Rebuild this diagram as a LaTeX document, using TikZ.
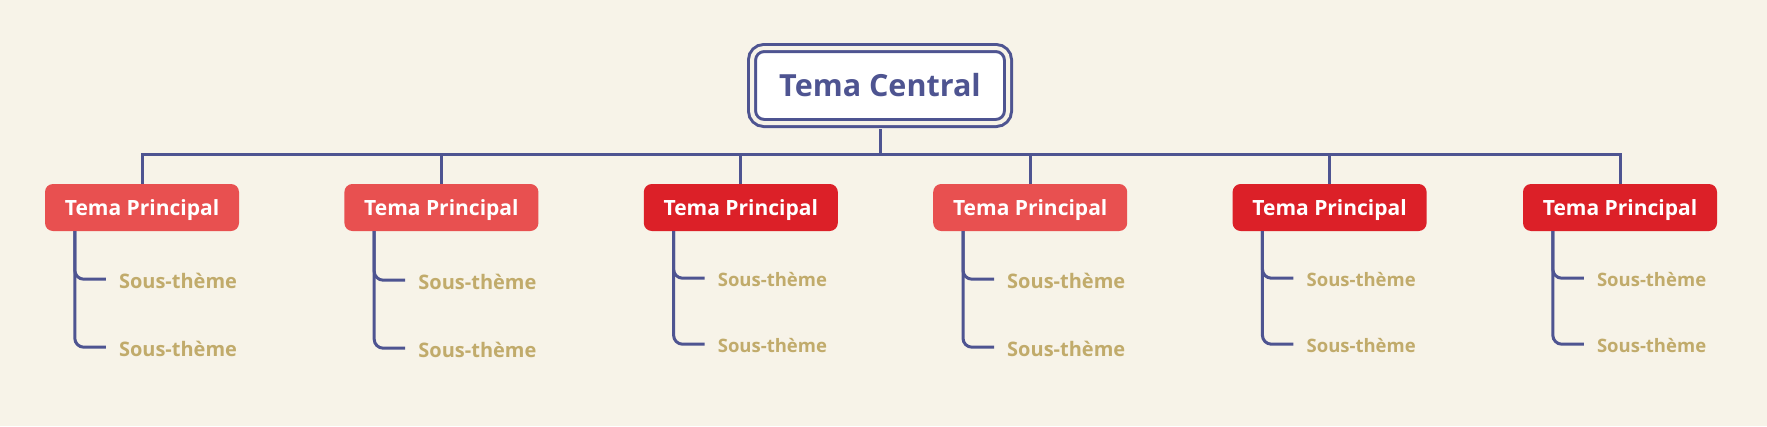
\documentclass[tikz,border=0pt]{standalone}
\usepackage{fontspec}
\setmainfont{Open Sans}
\usetikzlibrary{positioning}
\definecolor{bgcream}{HTML}{F7F3E8}
\definecolor{inkblue}{HTML}{4E5491}
\definecolor{softred}{HTML}{E85050}
\definecolor{deepred}{HTML}{DC2028}
\definecolor{sandgold}{HTML}{C1AB6B}

\begin{document}
\begin{tikzpicture}[x=1pt, y=-1pt]
\tikzstyle{central} = [rectangle, rounded corners=12pt, minimum width=256pt, minimum height=75pt, fill=white, draw=inkblue, line width=3pt, double=bgcream, double distance=4pt, text=inkblue, text height=21.8pt, text depth=0pt, font=\fontsize{30.5}{36}\selectfont\bfseries]
\tikzstyle{principal} = [rectangle, rounded corners=8pt, minimum width=194pt, minimum height=47pt, text=white, text height=15pt, text depth=0pt, font=\fontsize{21}{25}\selectfont\bfseries]
\tikzstyle{subtheme} = [anchor=west, inner sep=0pt, text=sandgold, text height=17.8pt, text depth=0pt, font=\fontsize{20}{24}\selectfont\bfseries]
\tikzstyle{subsmall} = [subtheme, text height=16.7pt, font=\fontsize{18.5}{22}\selectfont\bfseries]
\tikzstyle{link} = [draw=inkblue, line width=3pt]

\fill[bgcream] (0,0) rectangle (1767,426);

\node (central) [central] at (880,85.5) {Tema Central};

\node (p1) [principal, fill=softred] at (142,207.5) {Tema Principal};
\node (p2) [principal, fill=softred, right=105pt of p1] {Tema Principal};
\node (p3) [principal, fill=deepred, right=105pt of p2] {Tema Principal};
\node (p4) [principal, fill=softred, right=95pt of p3] {Tema Principal};
\node (p5) [principal, fill=deepred, right=105pt of p4] {Tema Principal};
\node (p6) [principal, fill=deepred, right=96pt of p5] {Tema Principal};

% tronc central
\foreach \i in {1,...,6}
  \draw[link] ([yshift=-4.5pt]central.south) -- ++(0,25.5) -| (p\i.north);

% sous-themes
\foreach \i/\st/\ya/\yb in {1/subtheme/48/116, 2/subtheme/49/117, 3/subsmall/47/113, 4/subtheme/48/116, 5/subsmall/47/113, 6/subsmall/47/113}
{
  \node (a\i) [\st] at ([xshift=74pt, yshift=-\ya pt]p\i.south west) {Sous-thème};
  \node (b\i) [\st] at ([xshift=74pt, yshift=-\yb pt]p\i.south west) {Sous-thème};
  \draw[link, rounded corners=9pt] ([xshift=30pt]p\i.south west) |- ([xshift=-13pt]a\i.west);
  \draw[link, rounded corners=9pt] ([xshift=30pt]p\i.south west) |- ([xshift=-13pt]b\i.west);
}
\end{tikzpicture}
\end{document}
